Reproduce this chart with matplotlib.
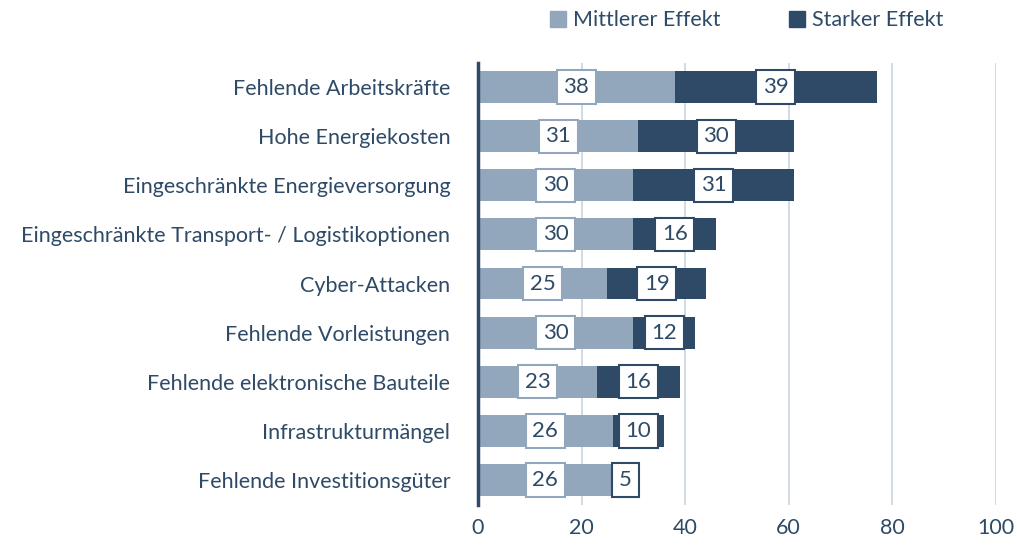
import matplotlib.pyplot as plt
from matplotlib.patches import Patch

# categories, top to bottom
categories = [
    "Fehlende Arbeitskräfte",
    "Hohe Energiekosten",
    "Eingeschränkte Energieversorgung",
    "Eingeschränkte Transport- / Logistikoptionen",
    "Cyber-Attacken",
    "Fehlende Vorleistungen",
    "Fehlende elektronische Bauteile",
    "Infrastrukturmängel",
    "Fehlende Investitionsgüter",
]
# values for each series
mittlerer = [38, 31, 30, 30, 25, 30, 23, 26, 26]
starker = [39, 30, 31, 16, 19, 12, 16, 10, 5]
x_ticks = [0, 20, 40, 60, 80, 100]

LIGHT = "#92a7bc"
DARK = "#2e4a66"
TEXT = "#2e4a66"
GRID = "#c9d4df"

plt.rcParams['font.family'] = ['Lato', 'DejaVu Sans']

fig = plt.figure(figsize=(10.17, 5.46), dpi=100)
ax = fig.add_axes([0.47, 0.076, 0.509, 0.8095])

pos = list(range(len(categories)))[::-1]
h = 0.65
ax.barh(pos, mittlerer, height=h, color=LIGHT, zorder=2)
ax.barh(pos, starker, left=mittlerer, height=h, color=DARK, zorder=2)

# value boxes in the middle of each segment
for y, m, s in zip(pos, mittlerer, starker):
    ax.text(m / 2, y, str(m), ha='center', va='center', fontsize=16,
            color=TEXT, zorder=4,
            bbox=dict(boxstyle='square,pad=0.3', fc='white', ec=LIGHT, lw=1.5))
    ax.text(m + s / 2, y, str(s), ha='center', va='center', fontsize=16,
            color=TEXT, zorder=4,
            bbox=dict(boxstyle='square,pad=0.3', fc='white', ec=DARK, lw=1.5))

ax.set_xlim(0, 100)
ax.set_ylim(-0.5, len(categories) - 0.5)
ax.set_xticks(x_ticks)
ax.set_xticklabels([str(t) for t in x_ticks])
ax.set_yticks(pos)
ax.set_yticklabels(categories)
ax.tick_params(axis='both', length=0, labelsize=15.5, labelcolor=TEXT)
ax.tick_params(axis='x', pad=10)
ax.tick_params(axis='y', pad=20)
ax.xaxis.grid(True, color=GRID, lw=1.2, zorder=0)
ax.set_axisbelow(True)

for side in ['top', 'right', 'bottom']:
    ax.spines[side].set_visible(False)
ax.spines['left'].set_color(DARK)
ax.spines['left'].set_linewidth(2.5)
ax.spines['left'].set_zorder(5)

handles = [Patch(color=LIGHT, label='Mittlerer Effekt'),
           Patch(color=DARK, label='Starker Effekt')]
fig.legend(handles=handles, loc='center', bbox_to_anchor=(0.734, 0.963), ncol=2,
           frameon=False, fontsize=15.5, labelcolor=TEXT, handlelength=0.75,
           handleheight=0.75, handletextpad=0.3, columnspacing=3.2)

fig.savefig('out.png', dpi=100)
